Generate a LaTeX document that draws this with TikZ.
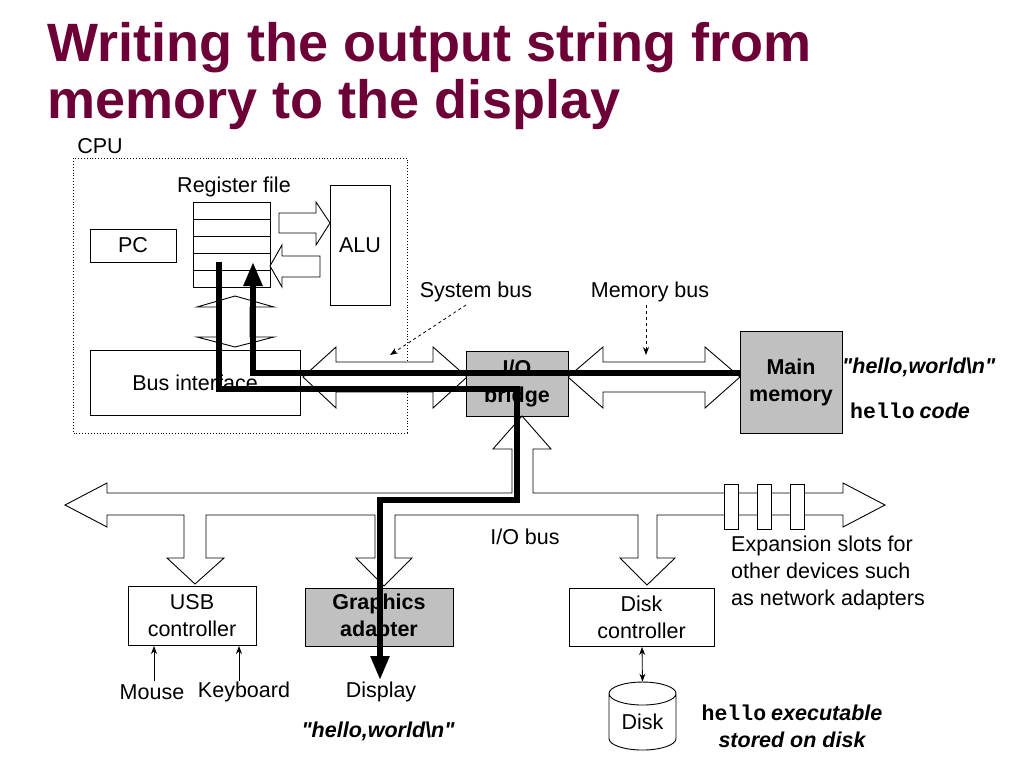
\documentclass[tikz,border=0pt]{standalone}
\usepackage{fontspec}
\setmainfont{Liberation Sans}[Ligatures=TeXOff]
\newfontfamily\monofont{Liberation Mono}
\usetikzlibrary{arrows.meta,shapes.geometric}
\definecolor{titlecol}{HTML}{6D0036}
\definecolor{boxgray}{HTML}{C0C0C0}
\begin{document}
\begin{tikzpicture}[x=1pt,y=-1pt,
  txt/.style={font=\fontsize{21.5}{27}\selectfont, inner sep=0pt, align=center},
  bx/.style={draw, line width=0.9pt, inner sep=0pt},
  gbx/.style={bx, fill=boxgray, font=\fontsize{21.5}{27}\selectfont\bfseries, align=center},
  hol/.style={draw, line width=0.9pt, fill=white, line join=miter},
  thick path/.style={line width=5.5pt},
  tip/.style={-{Triangle[length=24pt,width=18pt]}},
  bi/.style={font=\fontsize{21.5}{27}\selectfont\bfseries\itshape, inner sep=0pt}]
\useasboundingbox (0,0) rectangle (1024,768);
% title
\node[anchor=base west, inner sep=0pt, text=titlecol, font=\fontsize{54}{60}\selectfont\bfseries] (title) at (47,62) {Writing the output string from};
\node[anchor=base west, inner sep=0pt, text=titlecol, font=\fontsize{54}{60}\selectfont\bfseries] (title2) at (47,118) {memory to the display};
% CPU
\node[txt] (cpu) at (100,146) {CPU};
\draw[dotted, line width=0.9pt] (73,158) rectangle (407,433);
\node[txt] (rflab) at (234,187) {Register file};
\foreach \y in {202,219,236,253,270}{\draw[line width=0.9pt] (193,\y) rectangle (270,\y+17);}
\node[bx, minimum width=86pt, minimum height=33pt, txt, draw] (pc) at (133,245.5) {PC};
\node[bx, minimum width=60pt, minimum height=120pt, txt, draw] (alu) at (360,245) {ALU};
% reg <-> alu hollow arrows
\draw[hol] (279,213) -- (316,213) -- (316,202) -- (330,223) -- (316,245) -- (316,233) -- (279,233) -- cycle;
\draw[hol] (320,256) -- (282,256) -- (282,245) -- (270,266) -- (282,287) -- (282,277) -- (320,277) -- cycle;
% vertical double arrow
\draw[hol] (235,296) -- (274,307) -- (250,307) -- (250,337) -- (274,337) -- (235,347) -- (197,337) -- (220,337) -- (220,307) -- (197,307) -- cycle;
% bus interface
\node[bx, minimum width=210pt, minimum height=65pt, txt, draw] (busif) at (195,383) {Bus interface};
% system bus, memory bus
\draw[hol] (303,377) -- (336,347) -- (336,362) -- (433,362) -- (433,347) -- (467,377) -- (433,408) -- (433,392) -- (336,392) -- (336,408) -- cycle;
\draw[hol] (568,377) -- (603,347) -- (603,362) -- (705,362) -- (705,347) -- (740,377) -- (705,408) -- (705,392) -- (603,392) -- (603,408) -- cycle;
\node[gbx, minimum width=102pt, minimum height=65pt] (bridge) at (517,383.5) {I/O\\bridge};
\node[gbx, minimum width=102pt, minimum height=102pt] (mem) at (791,382) {Main\\memory};
\node[txt] (sysbus) at (476,292) {System bus};
\node[txt] (membus) at (650,292) {Memory bus};
\coordinate (sb) at (466,305);
\coordinate (sbt) at (390,355);
\coordinate (mb) at (646,305);
\coordinate (mbt) at (646,355);
\draw[dashed, line width=0.8pt, -{Stealth[length=8pt,width=6pt]}] (sb) -- (sbt);
\draw[dashed, line width=0.8pt, -{Stealth[length=8pt,width=6pt]}] (mb) -- (mbt);
\node[bi, anchor=west] (hw1) at (842,367) {"hello,world\textbackslash n"};
\node[anchor=west, inner sep=0pt] (hc) at (850,411) {{\monofont\fontsize{21.5}{27}\selectfont\bfseries hello}\hspace{5pt}{\fontsize{21.5}{27}\selectfont\bfseries\itshape code}};
% I/O bus
\draw[hol] (65,505) -- (107,483) -- (107,493) -- (512,493) -- (512,449) -- (493,449) -- (522,416) -- (551,449) -- (533,449) -- (533,493) -- (843,493) -- (843,483) -- (885,505) -- (843,527) -- (843,515)
 -- (657,515) -- (657,558) -- (675,558) -- (647,585) -- (620,558) -- (638,558) -- (638,515)
 -- (395,515) -- (395,558) -- (412,558) -- (384,586) -- (356,558) -- (375,558) -- (375,515)
 -- (206,515) -- (206,558) -- (224,558) -- (195,584) -- (167,558) -- (184,558) -- (184,515)
 -- (107,515) -- (107,527) -- cycle;
\foreach \x in {724,757,790}{\draw[hol] (\x,484) rectangle (\x+14,529);}
\node[txt] (iobus) at (525,537) {I/O bus};
\node[txt, anchor=north west, align=left] (exp) at (731,536) {Expansion slots for\\other devices such\\as network adapters};
% devices
\node[bx, minimum width=128pt, minimum height=59pt, txt, draw] (usb) at (192,615.5) {USB\\controller};
\node[gbx, minimum width=148pt, minimum height=58pt] (gfx) at (379,617) {Graphics\\adapter};
\node[bx, minimum width=145pt, minimum height=58pt, txt, draw] (dc) at (641.5,617) {Disk\\controller};
\node[txt] (mouse) at (152,692) {Mouse};
\node[txt] (kbd) at (244,692) {Keyboard};
\coordinate (ms) at (154,681);
\coordinate (mt) at (154,646);
\coordinate (ks) at (239,681);
\coordinate (kt) at (239,646);
\draw[line width=0.8pt, -{Stealth[length=8pt,width=6pt]}] (ms) -- (mt);
\draw[line width=0.8pt, -{Stealth[length=8pt,width=6pt]}] (ks) -- (kt);
\node[txt] (disp) at (381,692) {Display};
\node[bi] (hw2) at (378,731) {"hello,world\textbackslash n"};
% disk
\node[cylinder, shape border rotate=90, draw, line width=0.9pt, minimum width=67pt, minimum height=68pt, aspect=0.55, inner sep=0pt, txt] (disk) at (642.5,722) {Disk};
\coordinate (dcb) at (642,647);
\draw[line width=0.8pt, {Stealth[length=8pt,width=6pt]}-{Stealth[length=8pt,width=6pt]}] (dcb) -- (disk.top);
\node[anchor=center, inner sep=0pt] (he) at (792,713) {{\monofont\fontsize{21.5}{27}\selectfont\bfseries hello}\hspace{5pt}{\fontsize{21.5}{27}\selectfont\bfseries\itshape executable}};
\node[bi] (sd) at (792,740) {stored on disk};
% thick data paths
\coordinate (p1) at (740,373);
\coordinate (p2) at (253,373);
\coordinate (p3) at (253,262);
\draw[thick path, tip] (p1) -- (p2) -- (p3);
\draw[thick path, tip] (219,262) -- (219,389) -- (517,389) -- (517,500) -- (380,500) -- (380,680);
\end{tikzpicture}
\end{document}
